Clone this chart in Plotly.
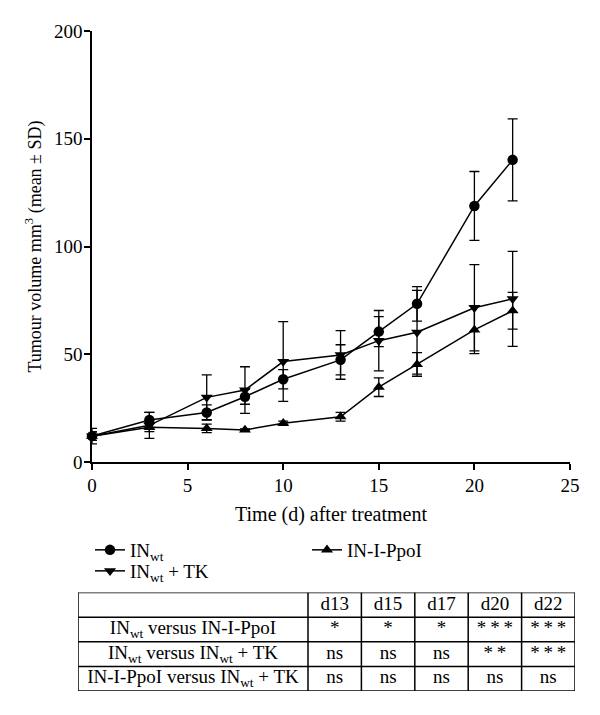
import plotly.graph_objects as go

days = [0, 3, 6, 8, 10, 13, 15, 17, 20, 22]
inwt_mean = [12, 19.5, 23, 30.3, 38.4, 47.4, 60.5, 73.4, 118.8, 140.2]
inwt_sd = [3.6, 3.5, 3.5, 3.5, 4.5, 7, 7, 8, 16, 19]
tk_mean = [12, 17, 30, 33.4, 46.6, 49.7, 56.3, 60.2, 71.6, 75.7]
tk_sd = [2, 6, 10.4, 10.8, 18.5, 11.3, 14, 19.4, 20, 22]
ppoi_mean = [12, 16.1, 15.6, 14.9, 18, 21, 34.7, 45.3, 61.3, 70.2]
ppoi_sd = [2, 2, 2, 0.5, 1, 2, 4.3, 5.5, 11, 8.5]

x_ticks = [0, 5, 10, 15, 20, 25]
y_ticks = [0, 50, 100, 150, 200]

table_header = ["", "d13", "d15", "d17", "d20", "d22"]
table_rows = [
    "IN<sub>wt</sub> versus IN-I-PpoI",
    "IN<sub>wt</sub> versus IN<sub>wt</sub> + TK",
    "IN-I-PpoI versus IN<sub>wt</sub> + TK",
]
table_d13 = ["*", "ns", "ns"]
table_d15 = ["*", "ns", "ns"]
table_d17 = ["*", "ns", "ns"]
table_d20 = ["***", "**", "ns"]
table_d22 = ["***", "***", "ns"]
col_widths = [230, 53.4, 53.4, 53.4, 53.4, 53.4]

FONT = "Liberation Serif"
FS = 19
W, H = 600, 715
BLACK = "black"

fig = go.Figure()

series = [
    ("IN<sub>wt</sub>", inwt_mean, inwt_sd, "circle", "legend", 10.5),
    ("IN<sub>wt</sub> + TK", tk_mean, tk_sd, "triangle-down", "legend2", 10.5),
    ("IN-I-PpoI", ppoi_mean, ppoi_sd, "triangle-up", "legend3", 10.5),
]
for name, m, sd, sym, leg, size in series:
    fig.add_trace(go.Scatter(
        x=days, y=m, name=name, mode="lines+markers",
        line=dict(color=BLACK, width=1.5),
        marker=dict(symbol=sym, size=size, color=BLACK),
        error_y=dict(type="data", array=sd, visible=True, color=BLACK,
                     thickness=1.3, width=5),
        cliponaxis=False, legend=leg,
    ))

# ---- significance table, drawn on its own hidden axes ----
edges = [0]
for w in col_widths:
    edges.append(edges[-1] + w)
centers = [(edges[i] + edges[i + 1]) / 2 for i in range(len(col_widths))]
columns = [[table_header[0]] + table_rows,
           [table_header[1]] + table_d13,
           [table_header[2]] + table_d15,
           [table_header[3]] + table_d17,
           [table_header[4]] + table_d20,
           [table_header[5]] + table_d22]
n_rows = len(table_rows) + 1


def fmt(v):
    return "\u2009".join(v) if v and set(v) == {"*"} else v


tx, ty, tt = [], [], []
for ci, col in enumerate(columns):
    for ri, v in enumerate(col):
        if v:
            tx.append(centers[ci])
            ty.append(ri + 0.5)
            tt.append(fmt(v))
fig.add_trace(go.Scatter(
    x=tx, y=ty, text=tt, mode="text", textposition="middle center",
    textfont=dict(family=FONT, size=FS, color=BLACK),
    xaxis="x2", yaxis="y2", showlegend=False, hoverinfo="skip", cliponaxis=False,
))
shapes = []
for r in range(n_rows + 1):
    shapes.append(dict(type="line", xref="x2", yref="y2", x0=edges[0], x1=edges[-1],
                       y0=r, y1=r, line=dict(color=BLACK, width=1.5)))
for e in edges:
    shapes.append(dict(type="line", xref="x2", yref="y2", x0=e, x1=e,
                       y0=0, y1=n_rows, line=dict(color=BLACK, width=1.5)))

leg_common = dict(orientation="v", xanchor="left", yanchor="top", bgcolor="rgba(0,0,0,0)",
                  font=dict(family=FONT, size=FS, color=BLACK))

fig.update_layout(
    width=W, height=H,
    margin=dict(l=0, r=0, t=0, b=0, autoexpand=False),
    paper_bgcolor="white", plot_bgcolor="white",
    font=dict(family=FONT, size=FS, color=BLACK),
    showlegend=True,
    legend=dict(x=90 / W, y=(H - 531) / H, **leg_common),
    legend2=dict(x=90 / W, y=(H - 552) / H, **leg_common),
    legend3=dict(x=307 / W, y=(H - 531) / H, **leg_common),
    shapes=shapes,
    xaxis=dict(domain=[92 / W, 570 / W], range=[0, 25], tickvals=x_ticks,
               showgrid=False, zeroline=False, showline=True, linecolor=BLACK, linewidth=1.5,
               ticks="outside", ticklen=6, tickwidth=1.5, tickcolor=BLACK,
               ticklabelstandoff=-1, automargin=False,
               title=dict(text="Time (d) after treatment", standoff=12,
                          font=dict(family=FONT, size=20, color=BLACK)),
               tickfont=dict(family=FONT, size=FS, color=BLACK)),
    yaxis=dict(domain=[(H - 462) / H, (H - 31) / H], range=[0, 200], tickvals=y_ticks,
               showgrid=False, zeroline=False, showline=True, linecolor=BLACK, linewidth=1.5,
               ticks="outside", ticklen=6, tickwidth=1.5, tickcolor=BLACK,
               ticklabelstandoff=-2, automargin=False,
               title=dict(text="Tumour volume mm<sup>3</sup> (mean ± SD)", standoff=8,
                          font=dict(family=FONT, size=18, color=BLACK)),
               tickfont=dict(family=FONT, size=FS, color=BLACK)),
    xaxis2=dict(domain=[78 / W, 575 / W], range=[edges[0], edges[-1]], visible=False,
                fixedrange=True),
    yaxis2=dict(domain=[(H - 691) / H, (H - 592.5) / H], range=[n_rows, 0], visible=False,
                fixedrange=True),
)

fig.write_html("out.html", config={"displayModeBar": False},
               post_script="document.body.style.margin='0px';")
